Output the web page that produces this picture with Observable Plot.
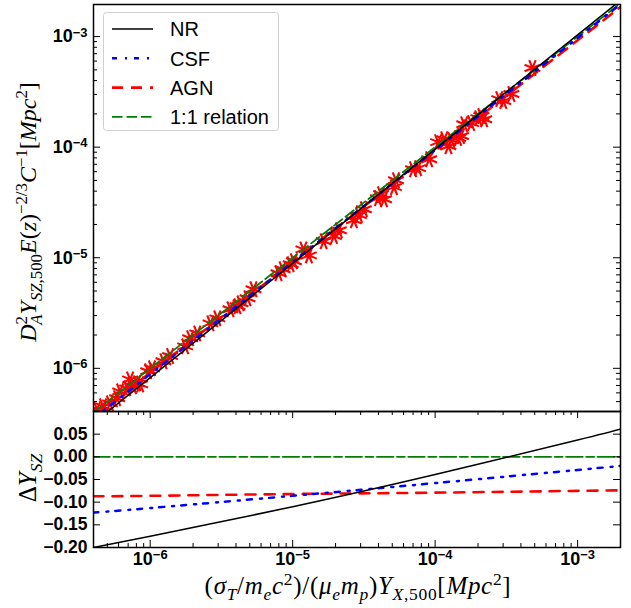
<!DOCTYPE html>
<html><head><meta charset="utf-8">
<script src="https://cdn.jsdelivr.net/npm/d3@7"></script>
<script src="https://cdn.jsdelivr.net/npm/@observablehq/plot@0.6"></script>
<style>
body{margin:0;background:#fff;}
#chart{width:631px;height:608px;position:relative;background:#fff;}
#chart svg{display:block;}
#overlay{position:absolute;left:0;top:0;pointer-events:none;}
</style></head><body><div id="chart"></div>
<script>
// ---------- data ----------
// cluster values: (sigma_T/m_e c^2)/(mu_e m_p) Y_X,500  and  D_A^2 Y_SZ,500 E(z)^-2/3 C^-1
const clusterYX = [4.24e-7,4.67e-7,5.22e-7,5.86e-7,6.15e-7,6.89e-7,7.23e-7,7.59e-7,8.09e-7,8.51e-7,
  9.68e-7,1.03e-6,1.24e-6,1.38e-6,1.76e-6,1.91e-6,2.14e-6,2.65e-6,2.96e-6,3.66e-6,
  4.10e-6,4.31e-6,4.82e-6,5.31e-6,7.96e-6,8.51e-6,9.68e-6,1.02e-5,1.19e-5,1.30e-5,
  1.65e-5,1.95e-5,2.11e-5,2.69e-5,2.92e-5,3.16e-5,3.97e-5,4.17e-5,4.38e-5,5.14e-5,
  5.31e-5,7.00e-5,7.59e-5,9.08e-5,1.05e-4,1.16e-4,1.24e-4,1.30e-4,1.45e-4,1.52e-4,
  1.60e-4,1.79e-4,2.01e-4,2.11e-4,2.21e-4,2.82e-4,3.01e-4,3.43e-4,4.82e-4];
const clusterYSZ = [4.26e-7,4.53e-7,4.82e-7,5.36e-7,6.19e-7,6.59e-7,7.94e-7,6.87e-7,7.31e-7,7.16e-7,
  9.40e-7,1.00e-6,1.16e-6,1.29e-6,1.58e-6,1.87e-6,2.07e-6,2.55e-6,2.83e-6,3.42e-6,
  3.64e-6,3.87e-6,4.30e-6,5.19e-6,7.24e-6,7.87e-6,8.73e-6,9.29e-6,1.19e-5,1.05e-5,
  1.41e-5,1.57e-5,1.77e-5,2.18e-5,2.43e-5,2.75e-5,3.45e-5,3.76e-5,3.38e-5,4.35e-5,
  5.02e-5,6.32e-5,6.46e-5,7.78e-5,1.11e-4,1.18e-4,1.02e-4,1.16e-4,1.21e-4,1.26e-4,
  1.61e-4,1.65e-4,1.83e-4,1.91e-4,1.79e-4,2.72e-4,2.61e-4,3.02e-4,5.19e-4];

// fit relations: relative offset Delta Y_SZ read at these x positions
const fitX = [4e-7, 1e-6, 1e-5, 1e-4, 1e-3, 2e-3];
const seriesNames = ["NR", "CSF", "AGN", "1:1 relation"];
const nrDelta  = [-0.200, -0.175, -0.110, -0.039, 0.037, 0.061];
const csfDelta = [-0.123, -0.113, -0.086, -0.058, -0.029, -0.020];
const agnDelta = [-0.087, -0.086, -0.082, -0.079, -0.075, -0.074];
const oneDelta = [0, 0, 0, 0, 0, 0];

// axis ticks
const xMajor = [1e-6, 1e-5, 1e-4, 1e-3];
const yTopMajor = [1e-6, 1e-5, 1e-4, 1e-3];
const yBotMajor = [-0.20, -0.15, -0.10, -0.05, 0.00, 0.05];
const xDomain = [4e-7, 2e-3];
const yTopDomain = [4.07e-7, 1.95e-3];
const yBotDomain = [-0.2, 0.1];

// ---------- styles ----------
const style = {
  "NR": {stroke: "black", width: 1.5, dash: null, dashBottom: null},
  "CSF": {stroke: "#0000ff", width: 2.5, dash: "5,8,2,7", dashBottom: "5,8,2,7"},
  "AGN": {stroke: "#ff0000", width: 2.6, dash: "11,8", dashBottom: "10,9"},
  "1:1 relation": {stroke: "green", width: 1.8, dash: "10.5,4", dashBottom: "16.5,3.5,8,3.5"}
};
const deltas = {"NR": nrDelta, "CSF": csfDelta, "AGN": agnDelta, "1:1 relation": oneDelta};
const drawOrder = ["1:1 relation", "AGN", "CSF", "NR"];

const W = 631, mL = 93, mR = 11;
const innerW = W - mL - mR;
const topH = 411, topMT = 4, topInner = topH - topMT;
const botH = 197, botMB = 61, botInner = botH - botMB;

function minorLog(domain) {
  const out = [];
  for (let e = -7; e <= -3; e++) for (let m = 2; m <= 9; m++) {
    const v = m * Math.pow(10, e);
    if (v > domain[0] && v < domain[1] * 0.999) out.push(v);
  }
  return out;
}
const xMinor = minorLog(xDomain);
const yTopMinor = minorLog(yTopDomain);

const asterisk8 = {
  draw(context, size) {
    const r = Math.sqrt(size / Math.PI);
    for (let k = 0; k < 4; ++k) {
      const a = k * Math.PI / 4 + Math.PI / 8;
      const dx = r * Math.cos(a), dy = r * Math.sin(a);
      context.moveTo(-dx, -dy); context.lineTo(dx, dy);
    }
  }
};

const clusters = clusterYX.map((x, i) => ({x, y: clusterYSZ[i]}));
const fmtPow = d => "10^" + Math.round(Math.log10(d));
const fmtDec = d => (Math.abs(d) < 1e-9 ? "0.00" : d.toFixed(2).replace("-", "\u2212"));
const tickStyle = {stroke: "black", strokeWidth: 1};
const plotStyle = {fontFamily: "'Liberation Sans', Arial, sans-serif", fontSize: "17.5px", fontWeight: "bold", background: "transparent", color: "black", overflow: "visible"};

// ---------- top panel ----------
const topMarks = [
  Plot.dot(clusters, {x: "x", y: "y", r: 8.5, symbol: asterisk8, stroke: "#ff0000", fill: "none", strokeWidth: 2.1, clip: true})
];
for (const name of drawOrder) {
  const s = style[name];
  topMarks.push(Plot.line(fitX.map((x, i) => ({x, y: x * (1 + deltas[name][i])})),
    {x: "x", y: "y", stroke: s.stroke, strokeWidth: s.width, strokeDasharray: s.dash, clip: true}));
}
topMarks.push(
  Plot.tickY(yTopMajor, {...tickStyle, insetRight: innerW - 7}),
  Plot.tickY(yTopMinor, {...tickStyle, insetRight: innerW - 4}),
  Plot.tickY(yTopMajor, {...tickStyle, insetLeft: innerW - 7}),
  Plot.tickY(yTopMinor, {...tickStyle, insetLeft: innerW - 4}),
  Plot.frame({stroke: "black", strokeWidth: 1.5}),
  Plot.axisY(yTopMajor, {anchor: "left", tickSize: 0, tickPadding: 6, tickFormat: fmtPow, label: null, fontSize: 18})
);
const topPlot = Plot.plot({
  width: W, height: topH, marginTop: topMT, marginBottom: 0, marginLeft: mL, marginRight: mR,
  x: {type: "log", domain: xDomain, axis: null},
  y: {type: "log", domain: yTopDomain, axis: null},
  style: plotStyle,
  marks: topMarks
});

// ---------- bottom panel ----------
const botMarks = [];
for (const name of drawOrder) {
  const s = style[name];
  botMarks.push(Plot.line(fitX.map((x, i) => ({x, d: deltas[name][i]})),
    {x: "x", y: "d", stroke: s.stroke, strokeWidth: s.width, strokeDasharray: s.dashBottom, curve: "natural", clip: true}));
}
botMarks.push(
  Plot.tickX(xMajor, {...tickStyle, insetTop: botInner - 7}),
  Plot.tickX(xMinor, {...tickStyle, insetTop: botInner - 4}),
  Plot.tickX(xMajor, {...tickStyle, insetBottom: botInner - 7}),
  Plot.tickX(xMinor, {...tickStyle, insetBottom: botInner - 4}),
  Plot.tickY(yBotMajor, {...tickStyle, insetRight: innerW - 7}),
  Plot.tickY(yBotMajor, {...tickStyle, insetLeft: innerW - 7}),
  Plot.frame({stroke: "black", strokeWidth: 1.5}),
  Plot.axisY(yBotMajor, {anchor: "left", tickSize: 0, tickPadding: 6, tickFormat: fmtDec, label: null}),
  Plot.axisX(xMajor, {anchor: "bottom", tickSize: 0, tickPadding: 5, tickFormat: fmtPow, label: null, fontSize: 18})
);
const botPlot = Plot.plot({
  width: W, height: botH, marginTop: 0, marginBottom: botMB, marginLeft: mL, marginRight: mR,
  x: {type: "log", domain: xDomain, axis: null},
  y: {domain: yBotDomain, axis: null},
  style: plotStyle,
  marks: botMarks
});

const chart = document.getElementById("chart");
chart.append(topPlot, botPlot);

// superscript powers of ten in tick labels
for (const svg of [topPlot, botPlot]) {
  d3.select(svg).selectAll("text").each(function () {
    const s = this.textContent;
    const m = s.match(/^10\^(-?\d+)$/);
    if (!m) return;
    const t = d3.select(this);
    t.selectAll("*").remove();
    t.text(null);
    t.append("tspan").text("10");
    t.append("tspan").attr("dy", "-0.45em").attr("font-size", "0.72em").text(m[1].replace("-", "\u2212"));
  });
}

// ---------- overlay: legend and math axis titles ----------
const ov = d3.select(chart).append("svg").attr("id", "overlay").attr("width", W).attr("height", 608);

const lg = ov.append("g");
lg.append("rect").attr("x", 103.5).attr("y", 12.5).attr("width", 175).attr("height", 118).attr("rx", 3)
  .attr("fill", "white").attr("fill-opacity", 0.8).attr("stroke", "#d0d0d0").attr("stroke-width", 1);
seriesNames.forEach((name, i) => {
  const s = style[name];
  const yy = 29 + i * 29.3;
  lg.append("line").attr("x1", 112).attr("x2", 153).attr("y1", yy).attr("y2", yy)
    .attr("stroke", s.stroke).attr("stroke-width", s.width).attr("stroke-dasharray", s.dash);
  lg.append("text").attr("x", 170).attr("y", yy).attr("dy", "0.36em")
    .attr("font-family", "'Liberation Sans', Arial, sans-serif").attr("font-size", 20).attr("fill", "black").text(name);
});

function mathLabel(parts, x, y, rotate, size, spacing) {
  const t = ov.append("text").attr("transform", `translate(${x},${y}) rotate(${rotate})`)
    .attr("text-anchor", "middle").attr("font-family", "'Liberation Serif', 'DejaVu Serif', serif")
    .attr("font-size", size).attr("fill", "black");
  if (spacing) t.attr("letter-spacing", spacing);
  let shift = 0;
  for (const p of parts) {
    const [txt, pos = "base", it = true, dx = 0] = p;
    const target = pos === "sup" ? -0.36 * size : pos === "sub" ? 0.24 * size : 0;
    const ts = t.append("tspan").text(txt).attr("font-style", it ? "italic" : "normal")
      .attr("font-size", pos === "base" ? size : size * 0.7).attr("dy", target - shift);
    if (dx) ts.attr("dx", dx);
    shift = target;
  }
  return t;
}
const yS = 24;
mathLabel([
  ["D"], ["2", "sup", false], ["A", "sub", true, -0.36 * yS], ["Y"], ["SZ", "sub"], [",500", "sub", false],
  ["E"], ["(", "base", false], ["z"], [")", "base", false], ["\u22122/3", "sup", false],
  ["C"], ["\u22121", "sup", false], ["[", "base", false], ["Mpc"], ["2", "sup", false], ["]", "base", false]
], 36, 212, -90, yS);
mathLabel([["\u0394", "base", false], ["Y"], ["SZ", "sub"]], 36, 478, -90, 25);
mathLabel([
  ["(", "base", false], ["\u03c3"], ["T", "sub"], ["/", "base", false], ["m"], ["e", "sub"], ["c"], ["2", "sup", false],
  [")/(", "base", false], ["\u03bc"], ["e", "sub"], ["m"], ["p", "sub"], [")", "base", false],
  ["Y"], ["X", "sub"], [",500", "sub", false], ["[", "base", false], ["Mpc"], ["2", "sup", false], ["]", "base", false]
], 358, 594, 0, 25, 0.7);
</script></body></html>
